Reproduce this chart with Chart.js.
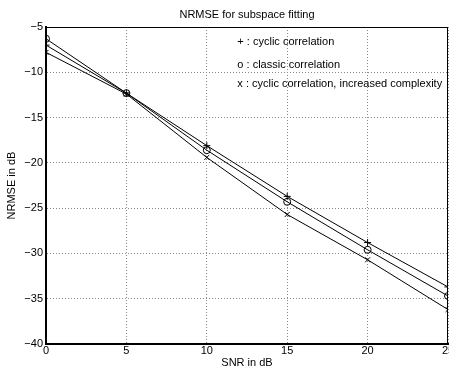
<!DOCTYPE html>
<html>
<head>
<meta charset="utf-8">
<script src="https://cdn.jsdelivr.net/npm/chart.js@4/dist/chart.umd.min.js"></script>
<style>
html,body{margin:0;padding:0;background:#fff;overflow:hidden;}
#wrap{width:494px;height:370px;position:relative;}
</style>
</head>
<body>
<div id="wrap"><canvas id="c" width="494" height="370"></canvas></div>
<script>
const snr = [0, 5, 10, 15, 20, 25];
const cyclic = [-7.0, -12.3, -18.1, -23.7, -28.8, -33.7];
const classic = [-6.3, -12.3, -18.6, -24.3, -29.6, -34.7];
const cyclicIncreased = [-7.8, -12.4, -19.4, -25.7, -30.7, -36.2];
const seriesNames = ['+ : cyclic correlation', 'o : classic correlation', 'x : cyclic correlation, increased complexity'];
const chartTitle = 'NRMSE for subspace fitting';
const xTicks = [0, 5, 10, 15, 20, 25];
const yTicks = [-5, -10, -15, -20, -25, -30, -35, -40];

const FONT = 'Liberation Sans, Arial, Helvetica, sans-serif';

function mk(vals, style) {
  return {
    data: snr.map((x, i) => ({x: x, y: vals[i]})),
    borderColor: '#000', backgroundColor: 'rgba(0,0,0,0)', borderWidth: 1,
    pointStyle: style, pointRadius: 3.5, pointBorderWidth: 1, pointBorderColor: '#000',
    showLine: true, tension: 0
  };
}

const annot = {
  id: 'annot',
  afterDraw(chart) {
    const ctx = chart.ctx, xs = chart.scales.x, ys = chart.scales.y, a = chart.chartArea;
    ctx.save();
    ctx.strokeStyle = '#000';
    ctx.lineWidth = 1;
    ctx.beginPath();
    ctx.moveTo(a.left, a.top + 0.5); ctx.lineTo(a.right, a.top + 0.5);
    ctx.moveTo(a.right - 0.5, a.top); ctx.lineTo(a.right - 0.5, a.bottom);
    ctx.stroke();
    ctx.fillStyle = '#000';
    ctx.font = '11px ' + FONT;
    ctx.textBaseline = 'middle';
    ctx.textAlign = 'center';
    ctx.fillText(chartTitle, (a.left + a.right) / 2, a.top - 12);
    ctx.textAlign = 'left';
    const tx = xs.getPixelForValue(11.9);
    const ty = [-6.7, -9.2, -11.3];
    seriesNames.forEach((s, i) => ctx.fillText(s, tx, ys.getPixelForValue(ty[i])));
    ctx.restore();
  }
};

new Chart(document.getElementById('c'), {
  type: 'scatter',
  data: { datasets: [mk(cyclic, 'cross'), mk(classic, 'circle'), mk(cyclicIncreased, 'crossRot')] },
  options: {
    responsive: false, animation: false,
    layout: { padding: { left: 0, right: 46, top: 27, bottom: 0 } },
    plugins: {
      legend: { display: false }, tooltip: { enabled: false }, title: { display: false }
    },
    scales: {
      x: {
        type: 'linear', min: 0, max: 25,
        afterBuildTicks: s => { s.ticks = xTicks.map(v => ({value: v})); },
        afterFit: s => { s.height = 26; },
        ticks: { color: '#000', font: { family: FONT, size: 11 }, padding: 0, maxRotation: 0 },
        grid: { color: '#888', lineWidth: 1, drawTicks: false, tickLength: 0 },
        border: { display: true, color: '#000', width: 2, dash: [1, 2] },
        title: { display: true, text: 'SNR in dB', color: '#000', font: { family: FONT, size: 11 }, padding: { top: 0, bottom: 0 } }
      },
      y: {
        type: 'linear', min: -40, max: -5,
        afterBuildTicks: s => { s.ticks = yTicks.map(v => ({value: v})); },
        afterFit: s => { s.width = 46; },
        ticks: { color: '#000', font: { family: FONT, size: 11 }, padding: 3,
                 callback: v => String(v).replace('-', '\u2212') },
        grid: { color: '#888', lineWidth: 1, drawTicks: false, tickLength: 0 },
        border: { display: true, color: '#000', width: 2, dash: [1, 2] },
        title: { display: true, text: 'NRMSE in dB', color: '#000', font: { family: FONT, size: 11 }, padding: { top: 5, bottom: 0 } }
      }
    }
  },
  plugins: [annot]
});
</script>
</body>
</html>
